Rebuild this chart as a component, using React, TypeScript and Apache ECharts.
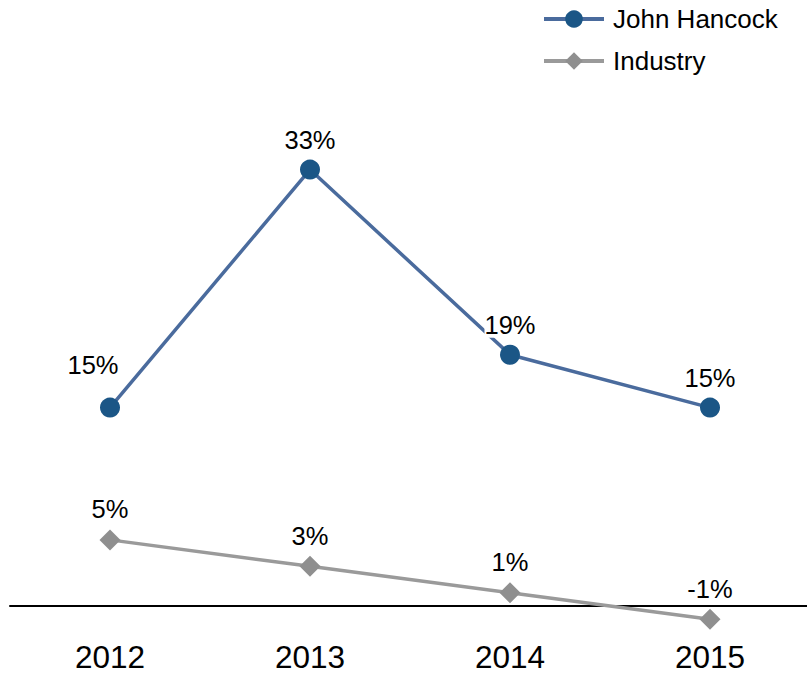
import React, { useEffect, useRef } from "react";
import * as echarts from "echarts";

const categories = ["2012", "2013", "2014", "2015"];
const johnHancock = [15, 33, 19, 15];
const industry = [5, 3, 1, -1];
const seriesNames = ["John Hancock", "Industry"];

export default function App() {
  const ref = useRef<HTMLDivElement>(null);
  useEffect(() => {
    if (!ref.current) return;
    const chart = echarts.init(ref.current, undefined, { renderer: "svg" });
    const font = "Liberation Sans, Arial, sans-serif";
    const label = (offset?: number[]) => ({
      show: true,
      position: "top",
      distance: 7,
      formatter: (p: any) => `${p.value}%`,
      fontSize: 25.5,
      fontFamily: font,
      color: "#000",
      backgroundColor: "#fff",
      ...(offset ? { offset } : {}),
    });
    chart.setOption({
      animation: false,
      backgroundColor: "#fff",
      textStyle: { fontFamily: font },
      legend: {
        orient: "vertical",
        left: 537,
        top: 1,
        itemWidth: 60,
        itemHeight: 22,
        itemGap: 16,
        data: seriesNames,
        lineStyle: { width: 4 },
        textStyle: { fontSize: 26, color: "#000", fontFamily: font, padding: [0, 0, 0, 4] },
      },
      grid: {
        left: 10,
        width: 800,
        top: 77,
        bottom: 68,
        containLabel: false,
        outerBoundsMode: "none",
      },
      xAxis: {
        type: "category",
        data: categories,
        boundaryGap: true,
        axisLine: { show: true, onZero: false, lineStyle: { color: "#000", width: 2 } },
        axisTick: { show: false },
        axisLabel: { fontSize: 31.5, color: "#000", margin: 35, fontFamily: font },
        splitLine: { show: false },
      },
      yAxis: {
        type: "value",
        min: 0,
        max: 40,
        interval: 5,
        show: false,
        splitLine: { show: false },
      },
      series: [
        {
          name: seriesNames[0],
          type: "line",
          clip: false,
          data: johnHancock.map((v, i) => ({
            value: v,
            label: i === 0 ? label([-17, -13]) : label(),
          })),
          symbol: "circle",
          symbolSize: 20,
          lineStyle: { color: "#4a6b9d", width: 3.5 },
          itemStyle: { color: "#1b5686" },
          label: label(),
          z: 3,
        },
        {
          name: seriesNames[1],
          type: "line",
          clip: false,
          data: industry,
          symbol: "diamond",
          symbolSize: 21,
          lineStyle: { color: "#9a9a9a", width: 3.5 },
          itemStyle: { color: "#8f8f8f" },
          label: label(),
          z: 2,
        },
      ],
    });
    return () => chart.dispose();
  }, []);
  return (
    <div
      ref={ref}
      style={{ position: "absolute", left: 0, top: 0, width: 807, height: 674 }}
    />
  );
}
